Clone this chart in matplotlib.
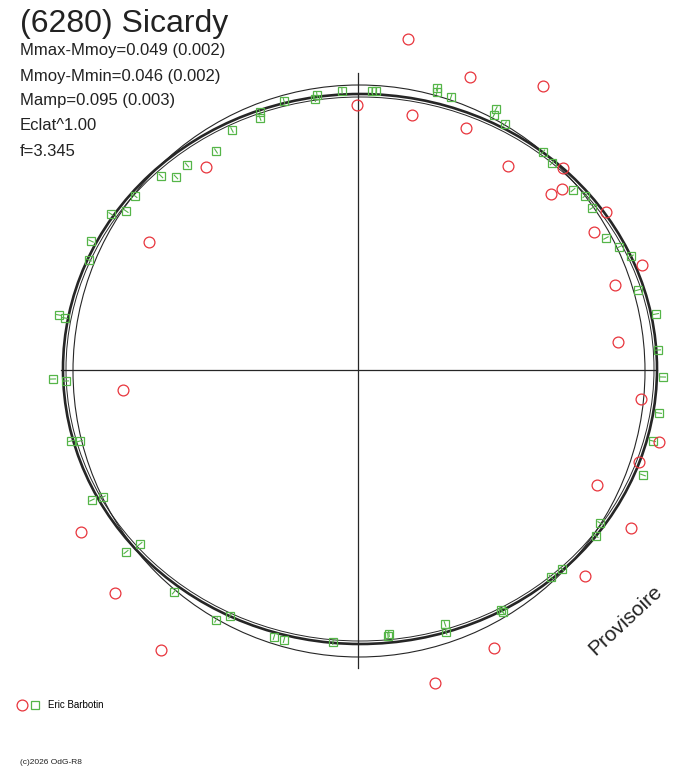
#!/usr/bin/env python3
"""Polar light curve of (6280) Sicardy, redrawn with matplotlib."""

import numpy as np
import matplotlib

matplotlib.use("Agg")
import matplotlib.pyplot as plt
from matplotlib.collections import LineCollection
from matplotlib.legend_handler import HandlerTuple
from matplotlib.patches import Circle, Ellipse

plt.rcParams["font.family"] = ["Liberation Sans", "DejaVu Sans"]

TITLE = "(6280) Sicardy"
INFO_LINES = [
    "Mmax-Mmoy=0.049 (0.002)",
    "Mmoy-Mmin=0.046 (0.002)",
    "Mamp=0.095 (0.003)",
    "Eclat^1.00",
    "f=3.345",
]
OBSERVER = "Eric Barbotin"
COPYRIGHT = "(c)2026 OdG-R8"
STAMP = "Provisoire"

# plot units: centre of the diagram at (0, 0), y upwards
# rejected / outlying measurements (red circles)
circ_x = [50, 112, 185, -1, 54, 108, 150, 205, 193, 204, 248, 236, 284,
          -152, -209, 257, 260, -235, 283, 301, 281, 239, 273, -277, 227,
          -243, 136, -197, 77]
circ_y = [331, 293, 284, 265, 255, 242, 204, 202, 176, 181, 158, 138, 105,
          203, 128, 85, 28, -20, -29, -72, -92, -115, -158, -162, -206,
          -223, -278, -280, -313]

# kept measurements (green squares)
sq_x = [-16, 14, 18, 79, 79, 93, 138, 136, 147, 185, 194, 215, 227, 234,
        248, 261, 273, 280, 298, 300, 305, 301, 295, 285, 242, 238, 204,
        193, 143, 145, 87, 88, 31, 30, -25, -74, -84, -128, -142, -184,
        -218, -232, -255, -266, -278, -287, -292, -305, -293, -299, -269,
        -267, -247, -232, -223, -197, -182, -171, -142, -126, -98, -98,
        -74, -43, -41]
sq_y = [279, 279, 279, 282, 278, 273, 261, 255, 246, 218, 207, 180, 174,
        162, 132, 123, 114, 80, 56, 20, -7, -43, -71, -105, -153, -166,
        -199, -207, -240, -242, -254, -262, -264, -266, -272, -270, -267,
        -246, -250, -222, -174, -182, -127, -130, -71, -71, -11, -9, 52,
        55, 110, 129, 156, 159, 174, 194, 193, 205, 219, 240, 258, 252,
        269, 271, 275]

# fitted curve (close to an ellipse) and reference circle
FIT_CENTER = (2, 1)
FIT_AXES = (594, 550)
REF_CENTER = (1, -1)
REF_RADIUS = 286

LINE = "#262626"
RED = "#e8343c"
GREEN = "#55b548"


def main() -> None:
    fig = plt.figure(figsize=(6.88, 7.68), dpi=100)
    ax = fig.add_axes([0, 0, 1, 1])
    ax.set_xlim(-358, 330)
    ax.set_ylim(-398, 370)
    ax.axis("off")

    # axes cross
    ax.plot([-297, 299], [0, 0], color=LINE, lw=0.9)
    ax.plot([0, 0], [-298, 297], color=LINE, lw=0.9)

    ax.add_patch(Circle(REF_CENTER, REF_RADIUS, fill=False, ec=LINE, lw=0.8))
    ax.add_patch(Ellipse(FIT_CENTER, *FIT_AXES, fill=False, ec=LINE, lw=1.9))
    ax.add_patch(Ellipse(FIT_CENTER, FIT_AXES[0] - 6, FIT_AXES[1] - 6,
                         fill=False, ec=LINE, lw=0.7))

    # small radial error ticks inside the squares
    sx = np.array(sq_x, dtype=float)
    sy = np.array(sq_y, dtype=float)
    rr = np.hypot(sx, sy)
    ux, uy = sx / rr, sy / rr
    segs = [[(x - 3 * a, y - 3 * b), (x + 3 * a, y + 3 * b)]
            for x, y, a, b in zip(sx, sy, ux, uy)]
    ax.add_collection(LineCollection(segs, colors=GREEN, lw=0.8, zorder=4))

    squares, = ax.plot(sq_x, sq_y, ls="none", marker="s", ms=5.8,
                       mfc="none", mec=GREEN, mew=0.9, zorder=5)
    circles, = ax.plot(circ_x, circ_y, ls="none", marker="o", ms=7.8,
                       mfc="none", mec=RED, mew=0.9, zorder=5)

    fig.text(20 / 688, 1 - 24 / 768, TITLE, fontsize=23, color="#222222",
             ha="left", va="center")
    for i, line in enumerate(INFO_LINES):
        fig.text(20 / 688, 1 - (51 + 25 * i) / 768, line, fontsize=12,
                 color="#222222", ha="left", va="center")

    fig.text(625 / 688, 1 - 620 / 768, STAMP, fontsize=15, rotation=43,
             color="#222222", ha="center", va="center",
             rotation_mode="anchor")

    ax.legend([(circles, squares)], [OBSERVER],
              handler_map={tuple: HandlerTuple(ndivide=None, pad=0.4)},
              loc="center left", bbox_to_anchor=(17 / 688, 1 - 705 / 768),
              bbox_transform=fig.transFigure, frameon=False, fontsize=7,
              handlelength=2.4, handletextpad=0.8, borderpad=0,
              borderaxespad=0)

    fig.text(20 / 688, 1 - 763 / 768, COPYRIGHT, fontsize=6,
             color="#222222", ha="left", va="center")

    fig.savefig("out.png", dpi=100)


if __name__ == "__main__":
    main()
